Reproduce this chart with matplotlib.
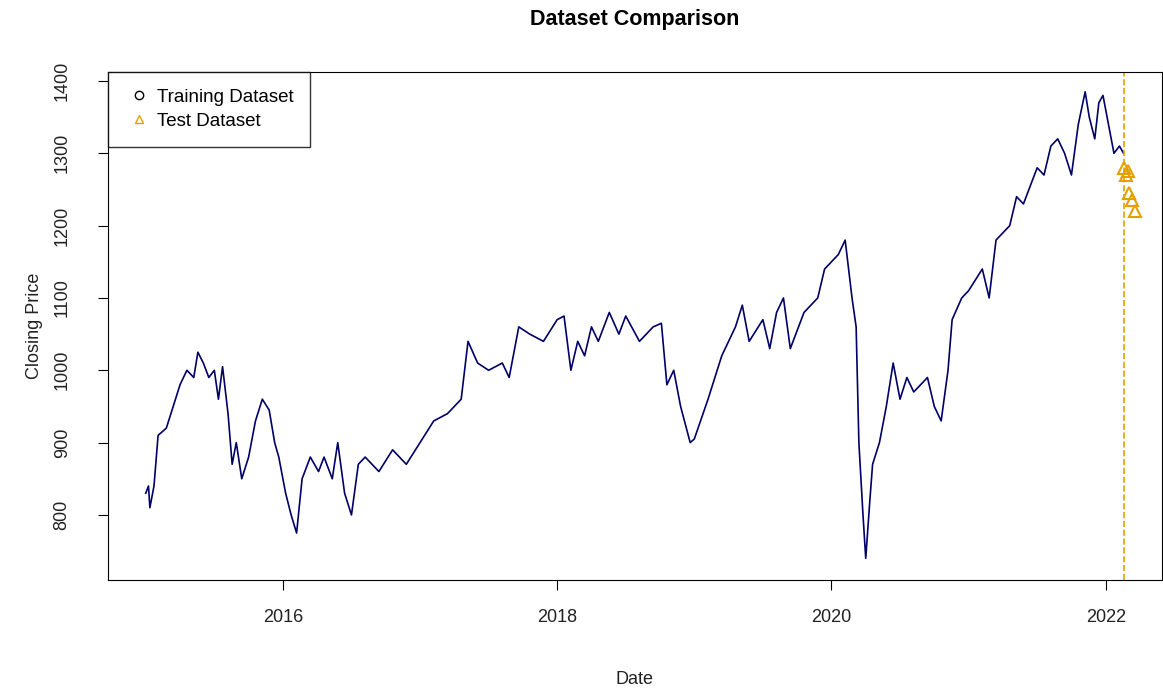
import matplotlib
matplotlib.use("Agg")
import matplotlib.pyplot as plt

plt.rcParams['font.family'] = ['Liberation Sans', 'DejaVu Sans']

train_t = [2015.00,2015.02,2015.03,2015.06,2015.09,2015.12,2015.15,2015.2,2015.25,2015.3,2015.35,2015.38,2015.42,2015.46,2015.5,2015.53,2015.56,2015.6,2015.63,2015.66,2015.7,2015.75,2015.8,2015.85,2015.9,2015.94,2015.97,2016.02,2016.06,2016.1,2016.14,2016.2,2016.26,2016.3,2016.36,2016.4,2016.45,2016.5,2016.55,2016.6,2016.7,2016.8,2016.9,2017.0,2017.1,2017.2,2017.3,2017.35,2017.42,2017.5,2017.6,2017.65,2017.72,2017.8,2017.9,2018.0,2018.05,2018.1,2018.15,2018.2,2018.25,2018.3,2018.38,2018.45,2018.5,2018.6,2018.7,2018.76,2018.8,2018.85,2018.9,2018.97,2019.0,2019.1,2019.2,2019.3,2019.35,2019.4,2019.5,2019.55,2019.6,2019.65,2019.7,2019.8,2019.9,2019.95,2020.0,2020.05,2020.1,2020.15,2020.18,2020.2,2020.23,2020.25,2020.28,2020.3,2020.35,2020.4,2020.45,2020.5,2020.55,2020.6,2020.7,2020.75,2020.8,2020.85,2020.88,2020.95,2021.0,2021.1,2021.15,2021.2,2021.3,2021.35,2021.4,2021.5,2021.55,2021.6,2021.65,2021.7,2021.75,2021.8,2021.85,2021.88,2021.92,2021.95,2021.98,2022.02,2022.06,2022.1,2022.13]
train_v = [830,840,810,840,910,915,920,950,980,1000,990,1025,1010,990,1000,960,1005,940,870,900,850,880,930,960,945,900,880,830,800,775,850,880,860,880,850,900,830,800,870,880,860,890,870,900,930,940,960,1040,1010,1000,1010,990,1060,1050,1040,1070,1075,1000,1040,1020,1060,1040,1080,1050,1075,1040,1060,1065,980,1000,950,900,905,960,1020,1060,1090,1040,1070,1030,1080,1100,1030,1080,1100,1140,1150,1160,1180,1100,1060,900,800,740,820,870,900,950,1010,960,990,970,990,950,930,1000,1070,1100,1110,1140,1100,1180,1200,1240,1230,1280,1270,1310,1320,1300,1270,1340,1385,1350,1320,1370,1380,1340,1300,1310,1300]
test_t = [2022.13,2022.15,2022.17,2022.19,2022.21,2022.16]
test_v = [1280,1270,1245,1235,1220,1275]
split_t = 2022.13

fig = plt.figure(figsize=(11.63, 6.91), dpi=100)
ax = fig.add_axes([0.0929, 0.1606, 0.9062, 0.7352])
ax.plot(train_t, train_v, color='#000066', lw=1.2)
ax.plot(test_t, test_v, linestyle='none', marker='^', mfc='none', mec='#E69F00', ms=9, mew=1.5)
ax.axvline(split_t, color='#E69F00', ls='--', lw=1.2)
ax.set_xlim(2014.725, 2022.41)
ax.set_ylim(710, 1412.4)
ax.set_xticks([2016, 2018, 2020, 2022])
ax.set_yticks([800, 900, 1000, 1100, 1200, 1300, 1400])
ax.tick_params(axis='both', labelsize=13, length=7, direction='out', labelcolor='#222222')
ax.tick_params(axis='x', pad=14)
ax.tick_params(axis='y', pad=26)
for lab in ax.get_yticklabels():
    lab.set_rotation(90); lab.set_va('center'); lab.set_ha('center')
ax.set_xlabel('Date', fontsize=13, labelpad=32, color='#222222')
ax.set_ylabel('Closing Price', fontsize=13, labelpad=8, color='#222222')
ax.set_title('Dataset Comparison', fontsize=15.5, fontweight='bold', pad=34)
ax.plot([], [], linestyle='none', marker='o', mfc='none', mec='black', label='Training Dataset')
ax.plot([], [], linestyle='none', marker='^', mfc='none', mec='#E69F00', label='Test Dataset')
h, l = ax.get_legend_handles_labels()
leg = ax.legend(h[-2:], l[-2:], loc='upper left', fontsize=13.5, frameon=True, fancybox=False,
                edgecolor='black', borderaxespad=0, handletextpad=0.2, borderpad=0.9,
                labelspacing=0.35, handlelength=1.5)
leg.get_frame().set_linewidth(1)
fig.savefig('out.png', dpi=100)
